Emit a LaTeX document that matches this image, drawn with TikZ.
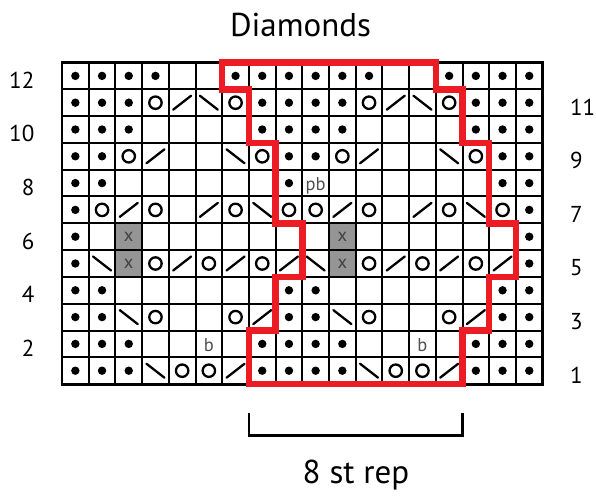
\documentclass[tikz,border=0pt]{standalone}
\usepackage{fontspec}
\setmainfont{PT Sans}
\definecolor{chartred}{HTML}{ED1C24}
\definecolor{xgray}{HTML}{959595}
\definecolor{txtgray}{HTML}{505050}
\tikzset{
  gridline/.style={line width=2pt, draw=black},
  borderline/.style={line width=2.8pt, draw=black},
  redline/.style={line width=6.5pt, draw=chartred, line join=miter},
  symline/.style={line width=2.3pt, line cap=round},
  bracketline/.style={line width=2.8pt, draw=black, line join=miter},
  rowlbl/.style={font=\fontsize{23}{23}\selectfont, inner sep=0pt},
  bigtext/.style={font=\fontsize{33}{33}\selectfont, inner sep=0pt},
  smalltext/.style={font=\fontsize{18.5}{18.5}\selectfont, inner sep=0pt, text=txtgray},
  pics/d/.style={code={\fill (0,0) circle[radius=4.2pt];}},
  pics/o/.style={code={\draw[symline] (0,0) circle[radius=6.2pt];}},
  pics/k/.style={code={\draw[symline] (-9pt,-7pt) -- (9pt,7pt);}},
  pics/s/.style={code={\draw[symline] (-9pt,7pt) -- (9pt,-7pt);}},
  pics/e/.style={code={}},
  pics/x/.style={code={\fill[xgray] (-13.35pt,-13.4pt) rectangle (13.35pt,13.4pt);
      \node[smalltext, text=black!75] (-t) at (0,0) {x};}},
  pics/pb/.style={code={\node[smalltext, anchor=base] (-t) at (0,-7.6pt) {pb};}},
  pics/b/.style={code={\node[smalltext, anchor=base] (-t) at (0,-7.8pt) {b};}},
}
\newcommand\chartrow[2]{%
  \foreach \s [count=\c] in {#2}{\pic (c#1-\c) at (\c-0.5,12.5-#1) {\s};}}
\begin{document}
\begin{tikzpicture}[x=1pt,y=-1pt]
\fill[white] (0,0) rectangle (596,502);
\useasboundingbox (0,0) rectangle (596,502);
\node[bigtext, anchor=base] (title) at (300.5,36.7) {Diamonds};
\begin{scope}[shift={(62,62.5)}, x=26.7pt, y=-26.8pt]
  \chartrow{12}{d,d,d,d,e,e,d,d,d,d,d,d,e,e,d,d,d,d}
  \chartrow{11}{d,d,d,o,k,s,o,d,d,d,d,o,k,s,o,d,d,d}
  \chartrow{10}{d,d,d,e,e,e,e,d,d,d,d,e,e,e,e,d,d,d}
  \chartrow{9}{d,d,o,k,e,e,s,o,d,d,o,k,e,e,s,o,d,d}
  \chartrow{8}{d,d,e,e,e,e,e,e,d,pb,e,e,e,e,e,e,d,d}
  \chartrow{7}{d,o,k,o,e,k,o,s,o,o,k,o,e,k,o,s,o,d}
  \chartrow{6}{d,e,x,e,e,e,e,e,e,e,x,e,e,e,e,e,e,d}
  \chartrow{5}{d,s,x,o,k,o,k,o,k,s,x,o,k,o,k,o,k,d}
  \chartrow{4}{d,d,e,e,e,e,e,e,d,d,e,e,e,e,e,e,d,d}
  \chartrow{3}{d,d,s,o,e,e,o,k,d,d,s,o,e,e,o,k,d,d}
  \chartrow{2}{d,d,d,e,e,b,e,d,d,d,d,e,e,b,e,d,d,d}
  \chartrow{1}{d,d,d,s,o,o,k,d,d,d,d,s,o,o,k,d,d,d}
  \foreach \i in {1,...,17} \draw[gridline] (\i,0) -- (\i,12);
  \foreach \j in {1,...,11} \draw[gridline] (0,\j) -- (18,\j);
  \draw[borderline] (0,0) rectangle (18,12);
  \draw[redline] (6,0) -- (6,1) -- (7,1) -- (7,3) -- (8,3) -- (8,6) -- (9,6)
    -- (9,8) -- (8,8) -- (8,10) -- (7,10) -- (7,12) -- (15,12) -- (15,10)
    -- (16,10) -- (16,8) -- (17,8) -- (17,6) -- (16,6) -- (16,3) -- (15,3)
    -- (15,1) -- (14,1) -- (14,0) -- cycle;
\end{scope}
\foreach \r in {2,4,...,12}
  \node[rowlbl, anchor=base east] (L\r) at (34.5,{62.5+(12.5-\r)*26.8+12.5}) {\r};
\foreach \r in {1,3,...,11}
  \node[rowlbl, anchor=base west] (R\r) at (570,{62.5+(12.5-\r)*26.8+12.5}) {\r};
\coordinate (bl) at (248.9,413);
\coordinate (br) at (462.5,413);
\draw[bracketline] (bl) -- ++(0,22.3) -| (br);
\node[bigtext, anchor=base] (rep) at (356,483) {8 st rep};
\end{tikzpicture}
\end{document}
